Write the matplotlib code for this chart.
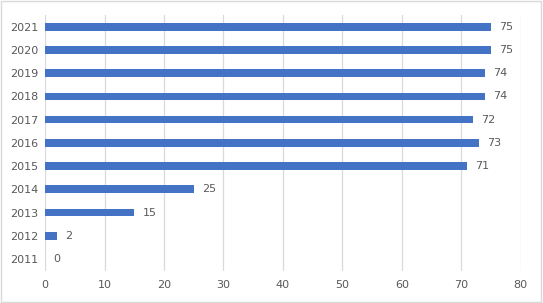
import matplotlib.pyplot as plt
from matplotlib.patches import Rectangle

years = ['2011', '2012', '2013', '2014', '2015', '2016', '2017', '2018', '2019', '2020', '2021']
values = [0, 2, 15, 25, 71, 73, 72, 74, 74, 75, 75]

fig = plt.figure(figsize=(5.43, 3.03), dpi=100)
ax = fig.add_axes([0.083, 0.107, 0.876, 0.843])

ax.barh(years, values, height=0.33, color='#4472C4', zorder=3)
for i, v in enumerate(values):
    ax.annotate(str(v), (v, i), xytext=(6, 0), textcoords='offset points',
                va='center', ha='left', fontsize=8, color='#595959')

ax.set_xlim(0, 80)
ax.set_ylim(-0.5, len(years) - 0.5)
ax.set_xticks(range(0, 81, 10))
ax.xaxis.grid(True, color='#D9D9D9', linewidth=0.9, zorder=0)
ax.tick_params(length=0, labelsize=8, labelcolor='#595959', pad=7)
ax.tick_params(axis='y', pad=5)
for s in ax.spines.values():
    s.set_visible(False)

fig.patches.append(Rectangle((0.002, 0.003), 0.995, 0.993, transform=fig.transFigure,
                             fill=False, edgecolor='#D9D9D9', linewidth=1))

fig.savefig('out.png', dpi=100)
